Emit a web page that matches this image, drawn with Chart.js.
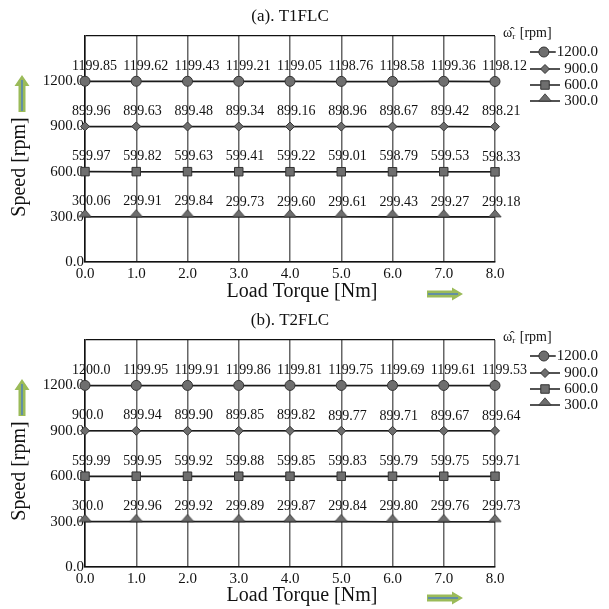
<!DOCTYPE html>
<html>
<head>
<meta charset="utf-8">
<script src="https://cdn.jsdelivr.net/npm/chart.js@4.4.1/dist/chart.umd.min.js"></script>
<style>
  html, body { margin: 0; padding: 0; background: #fff; }
  .box { position: relative; width: 609px; height: 304px; }
  .box.b2 { height: 305px; }
</style>
</head>
<body>
<div class="box"><canvas id="chartA"></canvas></div>
<div class="box b2"><canvas id="chartB"></canvas></div>
<script>
// load torque steps (x) and reference speeds (one line each)
const torque = [0, 1, 2, 3, 4, 5, 6, 7, 8];
const refSpeeds = ["1200.0", "900.0", "600.0", "300.0"];

// (a) T1FLC measured speeds
const t1Speed1200 = ["1199.85", "1199.62", "1199.43", "1199.21", "1199.05", "1198.76", "1198.58", "1199.36", "1198.12"];
const t1Speed900 = ["899.96", "899.63", "899.48", "899.34", "899.16", "898.96", "898.67", "899.42", "898.21"];
const t1Speed600 = ["599.97", "599.82", "599.63", "599.41", "599.22", "599.01", "598.79", "599.53", "598.33"];
const t1Speed300 = ["300.06", "299.91", "299.84", "299.73", "299.60", "299.61", "299.43", "299.27", "299.18"];

// (b) T2FLC measured speeds
const t2Speed1200 = ["1200.0", "1199.95", "1199.91", "1199.86", "1199.81", "1199.75", "1199.69", "1199.61", "1199.53"];
const t2Speed900 = ["900.0", "899.94", "899.90", "899.85", "899.82", "899.77", "899.71", "899.67", "899.64"];
const t2Speed600 = ["599.99", "599.95", "599.92", "599.88", "599.85", "599.83", "599.79", "599.75", "599.71"];
const t2Speed300 = ["300.0", "299.96", "299.92", "299.89", "299.87", "299.84", "299.80", "299.76", "299.73"];

const SERIF = "'Liberation Serif', 'Times New Roman', serif";
Chart.defaults.font.family = SERIF;
Chart.defaults.color = "#111";

const markFill = "#6e6e6e";
const markEdge = "#333";

// triangle sitting on its base (base on the line)
const tri = document.createElement("canvas");
tri.width = 14;
tri.height = 16;
{
  const c = tri.getContext("2d");
  c.beginPath();
  c.moveTo(7, 0.8);
  c.lineTo(13.2, 8);
  c.lineTo(0.8, 8);
  c.closePath();
  c.fillStyle = markFill;
  c.fill();
  c.strokeStyle = markEdge;
  c.lineWidth = 0.8;
  c.stroke();
}

const styles = ["circle", "rectRot", "rect", tri];
const radii = [5, 4.5, 6, 6];

function drawMarker(ctx, i, x, y) {
  const st = styles[i];
  ctx.save();
  if (typeof st !== "string") {
    ctx.drawImage(st, x - st.width / 2, y - st.height / 2);
  } else if (Chart.helpers && Chart.helpers.drawPoint) {
    ctx.fillStyle = markFill;
    ctx.strokeStyle = markEdge;
    ctx.lineWidth = 1;
    Chart.helpers.drawPoint(ctx, { pointStyle: st, radius: radii[i], rotation: 0, borderWidth: 1 }, x, y);
  } else {
    ctx.beginPath();
    ctx.arc(x, y, radii[i], 0, Math.PI * 2);
    ctx.fillStyle = markFill;
    ctx.fill();
  }
  ctx.restore();
}

function drawUpArrow(ctx, cx, top, bottom) {
  ctx.save();
  ctx.beginPath();
  ctx.moveTo(cx, top);
  ctx.lineTo(cx + 7.5, top + 11);
  ctx.lineTo(cx + 3.5, top + 11);
  ctx.lineTo(cx + 3.5, bottom);
  ctx.lineTo(cx - 3.5, bottom);
  ctx.lineTo(cx - 3.5, top + 11);
  ctx.lineTo(cx - 7.5, top + 11);
  ctx.closePath();
  ctx.fillStyle = "#9bbb59";
  ctx.fill();
  ctx.strokeStyle = "#4f81bd";
  ctx.lineWidth = 1.5;
  ctx.beginPath();
  ctx.moveTo(cx, top + 5);
  ctx.lineTo(cx, bottom - 1);
  ctx.stroke();
  ctx.restore();
}

function drawRightArrow(ctx, left, right, cy) {
  ctx.save();
  ctx.beginPath();
  ctx.moveTo(right, cy);
  ctx.lineTo(right - 11, cy - 6.5);
  ctx.lineTo(right - 11, cy - 3.5);
  ctx.lineTo(left, cy - 3.5);
  ctx.lineTo(left, cy + 3.5);
  ctx.lineTo(right - 11, cy + 3.5);
  ctx.lineTo(right - 11, cy + 6.5);
  ctx.closePath();
  ctx.fillStyle = "#9bbb59";
  ctx.fill();
  ctx.strokeStyle = "#4f81bd";
  ctx.lineWidth = 1.5;
  ctx.beginPath();
  ctx.moveTo(left + 1, cy);
  ctx.lineTo(right - 5, cy);
  ctx.stroke();
  ctx.restore();
}

const decor = {
  id: "decor",
  afterDatasetsDraw(chart) {
    const ctx = chart.ctx;
    ctx.save();
    ctx.font = "14px " + SERIF;
    ctx.fillStyle = "#111";
    ctx.textAlign = "left";
    ctx.textBaseline = "middle";
    chart.data.datasets.forEach((ds, i) => {
      const meta = chart.getDatasetMeta(i);
      meta.data.forEach((pt, j) => {
        ctx.fillText(ds.labels[j], pt.x - 13, pt.y - 15);
      });
    });
    ctx.restore();
  },
  afterDraw(chart) {
    const ctx = chart.ctx;
    ctx.save();
    ctx.fillStyle = "#111";
    ctx.textBaseline = "middle";

    // axis titles (placed as in the figure, a bit off-centre)
    ctx.font = "20px " + SERIF;
    ctx.textAlign = "center";
    ctx.fillText("Load Torque [Nm]", 302, 292);
    ctx.save();
    ctx.translate(20, 167);
    ctx.rotate(-Math.PI / 2);
    ctx.fillText("Speed [rpm]", 0, 0);
    ctx.restore();

    // legend title
    ctx.textAlign = "left";
    ctx.font = "14px " + SERIF;
    ctx.fillText("ω\u0302", 503, 33);
    const w = ctx.measureText("ω\u0302").width;
    ctx.font = "9px " + SERIF;
    ctx.fillText("r", 503 + w, 37);
    ctx.font = "14px " + SERIF;
    ctx.fillText(" [rpm]", 503 + w + 4, 33);

    // legend entries
    const rows = [52, 69, 85, 101];
    ctx.font = "15px " + SERIF;
    ctx.textAlign = "right";
    chart.data.datasets.forEach((ds, i) => {
      const y = rows[i];
      const tw = ctx.measureText(ds.label).width;
      const lineEnd = Math.min(560, 598 - tw - 1);
      ctx.strokeStyle = "#1a1a1a";
      ctx.lineWidth = 1.5;
      ctx.beginPath();
      ctx.moveTo(530, y);
      ctx.lineTo(lineEnd, y);
      ctx.stroke();
      drawMarker(ctx, i, Math.min(545, (530 + lineEnd) / 2 + 1), y);
      ctx.fillStyle = "#111";
      ctx.fillText(ds.label, 598, y);
    });
    drawUpArrow(ctx, 22, 75, 112);
    drawRightArrow(ctx, 427, 463, 294);
    ctx.restore();
  }
};

function makeChart(id, title, series) {
  const datasets = series.map((vals, i) => ({
    label: refSpeeds[i],
    labels: vals,
    data: torque.map((t, j) => ({ x: t, y: parseFloat(vals[j]) })),
    borderColor: "#1a1a1a",
    borderWidth: 1.5,
    pointStyle: styles[i],
    pointRadius: radii[i],
    pointBackgroundColor: markFill,
    pointBorderColor: markEdge,
    pointBorderWidth: 1,
    tension: 0,
    clip: false
  }));

  return new Chart(document.getElementById(id), {
    type: "line",
    data: { datasets },
    plugins: [decor],
    options: {
      responsive: true,
      maintainAspectRatio: false,
      animation: false,
      layout: { padding: { left: 0, right: 114, top: 0, bottom: 0 } },
      plugins: {
        legend: { display: false },
        tooltip: { enabled: false },
        title: {
          display: true,
          text: title,
          fullSize: false,
          color: "#111",
          font: { size: 17, weight: "normal", lineHeight: 1 },
          padding: { top: 8, bottom: 11 }
        }
      },
      scales: {
        x: {
          type: "linear",
          min: 0,
          max: 8,
          afterFit: s => { s.height = 42; },
          ticks: { stepSize: 1, padding: 3, font: { size: 15 }, color: "#111", callback: v => v.toFixed(1) },
          grid: { color: "#666", lineWidth: 1.5, drawTicks: false },
          border: { color: "#111", width: 1.5 },
          title: { display: false, text: "Load Torque [Nm]" }
        },
        y: {
          min: 0,
          max: 1500,
          afterFit: s => { s.width = 85; },
          ticks: {
            stepSize: 300,
            padding: 1,
            font: { size: 15 },
            color: "#111",
            callback: v => (v === 1500 ? "" : v.toFixed(1))
          },
          grid: { color: "#111", lineWidth: 1.2, drawTicks: false },
          border: { color: "#111", width: 1.5 },
          title: { display: false, text: "Speed [rpm]" }
        }
      }
    }
  });
}

makeChart("chartA", "(a). T1FLC", [t1Speed1200, t1Speed900, t1Speed600, t1Speed300]);
makeChart("chartB", "(b). T2FLC", [t2Speed1200, t2Speed900, t2Speed600, t2Speed300]);
</script>
</body>
</html>
